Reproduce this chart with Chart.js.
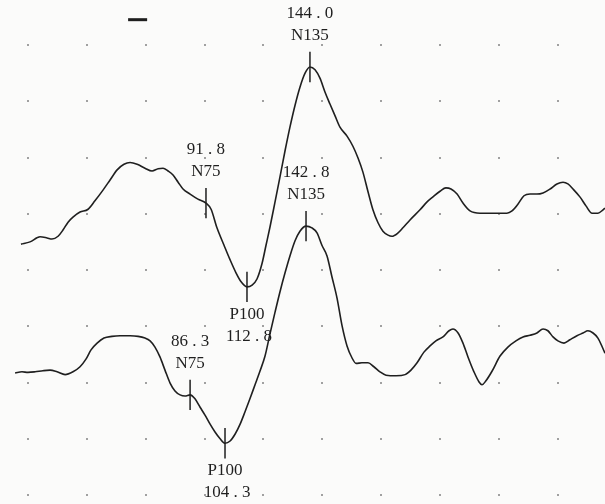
<!DOCTYPE html>
<html>
<head>
<meta charset="utf-8">
<script src="https://cdn.jsdelivr.net/npm/chart.js@4.4.1/dist/chart.umd.min.js"></script>
<style>
  html, body { margin: 0; padding: 0; background: #fbfbfa; }
  #wrap { width: 605px; height: 504px; }
</style>
</head>
<body>
<div id="wrap"><canvas id="vep" width="605" height="504"></canvas></div>
<script>
/* ─── DATA ─────────────────────────────────────────────
 * x: latency in ms, y: amplitude in grid divisions
 * (bottom dot row = 0, top dot row = 8)
 */
const TOP_MS = [
  -3.6, 1.0, 6.1, 9.7, 12.2, 15.3, 17.8, 20.4, 22.9, 26.5, 30.6, 34.1, 38.2, 41.8, 45.4, 48.9,
  52.0, 55.6, 59.6, 63.2, 66.3, 68.8, 71.4, 73.9, 76.5, 79.0, 82.6, 86.6, 90.7, 93.3, 96.3, 99.9,
  103.0, 106.0, 108.6, 111.6, 114.2, 116.7, 119.3, 121.3, 123.3, 125.9, 128.4, 131.0, 133.5, 136.1,
  138.6, 141.2, 143.7, 146.3, 148.8, 151.4, 153.9, 156.5, 159.0, 162.6, 165.6, 168.2, 170.7, 173.3,
  175.8, 178.4, 180.9, 183.5, 185.5, 188.6, 191.1, 194.7, 199.8, 203.4, 206.4, 210.0, 213.0, 215.6,
  218.7, 221.7, 225.3, 230.4, 235.5, 240.6, 244.1, 246.7, 249.7, 252.8, 255.9, 259.4, 262.5, 266.1,
  269.6, 272.7, 275.2, 277.8, 281.3, 284.4, 287.5, 290.5, 293.1, 294.1,
]
const TOP_AMP = [
  4.46, 4.50, 4.59, 4.57, 4.55, 4.60, 4.71, 4.85, 4.94, 5.03, 5.08, 5.23, 5.42, 5.60, 5.78, 5.88,
  5.91, 5.88, 5.81, 5.76, 5.80, 5.81, 5.76, 5.69, 5.56, 5.44, 5.35, 5.26, 5.19, 5.08, 4.75, 4.44,
  4.18, 3.95, 3.79, 3.70, 3.73, 3.84, 4.12, 4.44, 4.76, 5.21, 5.65, 6.12, 6.54, 6.93,
  7.25, 7.50, 7.61, 7.56, 7.41, 7.16, 6.95, 6.74, 6.54, 6.38, 6.20, 5.99, 5.74, 5.39,
  5.07, 4.84, 4.69, 4.62, 4.60, 4.66, 4.75, 4.89, 5.07, 5.21, 5.30, 5.40, 5.46, 5.44,
  5.35, 5.19, 5.05, 5.01, 5.01, 5.01, 5.01, 5.05, 5.17, 5.32, 5.35, 5.35, 5.37, 5.44,
  5.53, 5.56, 5.53, 5.44, 5.30, 5.14, 5.01, 5.01, 5.07, 5.10,
]

const BOT_MS = [
  -6.6, -3.1, 0.0, 3.6, 7.6, 11.2, 14.8, 18.9, 22.9, 26.5, 29.6, 32.1, 35.2, 38.7, 42.8, 46.9,
  52.0, 56.1, 59.6, 62.2, 64.7, 67.3, 69.8, 72.4, 74.9, 77.5, 80.0, 82.6, 85.1, 87.7, 90.2, 92.8,
  95.3, 97.9, 100.4, 103.0, 105.5, 108.1, 110.6, 113.1, 115.7, 118.2, 120.8, 123.3, 125.9, 128.4,
  131.0, 133.5, 136.1, 138.6, 141.7, 144.7, 147.3, 149.8, 152.4, 154.9, 157.5, 160.0, 162.6, 165.1,
  167.2, 170.2, 173.3, 176.3, 179.4, 182.5, 187.6, 192.2, 195.2, 198.3, 201.8, 204.9, 207.9, 211.5,
  214.6, 216.6, 219.2, 221.7, 224.3, 227.3, 229.9, 231.4, 233.4, 236.5, 240.6, 244.6, 248.7, 252.3,
  255.9, 259.4, 262.5, 265.0, 267.6, 270.1, 273.2, 276.2, 279.8, 282.9, 285.4, 288.0, 290.5, 293.1, 294.1,
]
const BOT_AMP = [
  2.17, 2.19, 2.18, 2.19, 2.21, 2.22, 2.19, 2.14, 2.19, 2.28, 2.42, 2.58, 2.70, 2.79, 2.82, 2.83,
  2.83, 2.82, 2.79, 2.74, 2.63, 2.45, 2.22, 1.99, 1.85, 1.78, 1.76, 1.78, 1.71, 1.56, 1.42, 1.26,
  1.12, 1.00, 0.92, 0.96, 1.08, 1.26, 1.48, 1.71, 1.96, 2.20, 2.47, 2.86, 3.25, 3.61,
  3.95, 4.25, 4.52, 4.69, 4.78, 4.75, 4.66, 4.44, 4.25, 3.88, 3.50, 3.02, 2.65, 2.44,
  2.34, 2.35, 2.35, 2.28, 2.19, 2.13, 2.12, 2.14, 2.22, 2.35, 2.54, 2.65, 2.74, 2.81,
  2.92, 2.95, 2.88, 2.70, 2.45, 2.19, 2.01, 1.96, 2.03, 2.20, 2.47, 2.63, 2.74, 2.81,
  2.84, 2.88, 2.95, 2.92, 2.81, 2.74, 2.70, 2.76, 2.83, 2.88, 2.92, 2.88, 2.79, 2.60, 2.52,
]

// peak markers: where the cursor sits on the trace + what the printout says
const PEAK_NAMES   = ['N75', 'P100', 'N135', 'N75', 'P100', 'N135']
const PEAK_VALUES  = [91.8, 112.8, 144.0, 86.3, 104.3, 142.8]
const PEAK_X       = [90.7, 111.6, 143.7, 82.6, 100.4, 141.7]
const PEAK_Y       = [5.19, 3.70, 7.61, 1.78, 0.92, 4.78]
const PEAK_BELOW   = [false, true, false, false, true, false]

// dotted grid
const X_GRID_MS  = [0, 30, 60, 90, 120, 150, 180, 210, 240, 270]
const Y_GRID_DIV = [0, 1, 2, 3, 4, 5, 6, 7, 8]

// amplitude scale bar (top left)
const SCALE_BAR_MS  = [51.0, 60.7]
const SCALE_BAR_DIV = 8.45

/* ─── STYLE ─────────────────────────────────────────── */
const INK      = '#1f1f1f'
const DOT      = '#a0a0a0'
const TICK_LEN = 0.27   // half length of a cursor tick, in divisions
const FONT     = '17px "Liberation Serif", "DejaVu Serif", serif'

const fmtLatency = v => v.toFixed(1).replace('.', ' . ')
const toPts = (xs, ys) => xs.map((x, i) => ({ x, y: ys[i] }))

/* ─── PLUGINS ───────────────────────────────────────── */
const gridDots = {
  id: 'gridDots',
  beforeDatasetsDraw(chart) {
    const { ctx, scales: { x, y } } = chart
    ctx.save()
    ctx.fillStyle = DOT
    for (const gx of X_GRID_MS) {
      for (const gy of Y_GRID_DIV) {
        const px = x.getPixelForValue(gx)
        const py = y.getPixelForValue(gy)
        ctx.fillRect(Math.round(px) - 1, Math.round(py) - 1, 2, 2)
      }
    }
    ctx.restore()
  },
}

const peakLabels = {
  id: 'peakLabels',
  afterDatasetsDraw(chart) {
    const { ctx, scales: { x, y } } = chart
    ctx.save()
    ctx.font = FONT
    ctx.fillStyle = INK
    ctx.textAlign = 'center'
    ctx.textBaseline = 'middle'
    PEAK_NAMES.forEach((name, i) => {
      const px = x.getPixelForValue(PEAK_X[i])
      const val = fmtLatency(PEAK_VALUES[i])
      if (PEAK_BELOW[i]) {
        const py = y.getPixelForValue(PEAK_Y[i] - TICK_LEN)
        ctx.fillText(name, px, py + 12)
        ctx.fillText(val, px + 2, py + 34)
      } else {
        const py = y.getPixelForValue(PEAK_Y[i] + TICK_LEN)
        ctx.fillText(name, px, py - 16)
        ctx.fillText(val, px, py - 38)
      }
    })
    ctx.restore()
  },
}

/* ─── CHART ─────────────────────────────────────────── */
const traceSet = (data) => ({
  data,
  showLine: true,
  borderColor: INK,
  borderWidth: 1.6,
  pointRadius: 0,
  cubicInterpolationMode: 'monotone',
  fill: false,
})

const tickSets = PEAK_X.map((px, i) => ({
  data: [{ x: px, y: PEAK_Y[i] - TICK_LEN }, { x: px, y: PEAK_Y[i] + TICK_LEN }],
  showLine: true,
  borderColor: INK,
  borderWidth: 1.5,
  pointRadius: 0,
}))

const scaleBar = {
  data: SCALE_BAR_MS.map(x => ({ x, y: SCALE_BAR_DIV })),
  showLine: true,
  borderColor: '#1e1e1e',
  borderWidth: 3,
  pointRadius: 0,
}

new Chart(document.getElementById('vep'), {
  type: 'scatter',
  data: {
    datasets: [
      traceSet(toPts(TOP_MS, TOP_AMP)),
      traceSet(toPts(BOT_MS, BOT_AMP)),
      ...tickSets,
      scaleBar,
    ],
  },
  options: {
    responsive: false,
    animation: false,
    layout: { padding: 0 },
    plugins: { legend: { display: false }, tooltip: { enabled: false } },
    scales: {
      x: { type: 'linear', min: -14.3, max: 294.1, display: false },
      y: { type: 'linear', min: -0.16, max: 8.8, display: false },
    },
  },
  plugins: [gridDots, peakLabels],
})
</script>
</body>
</html>
